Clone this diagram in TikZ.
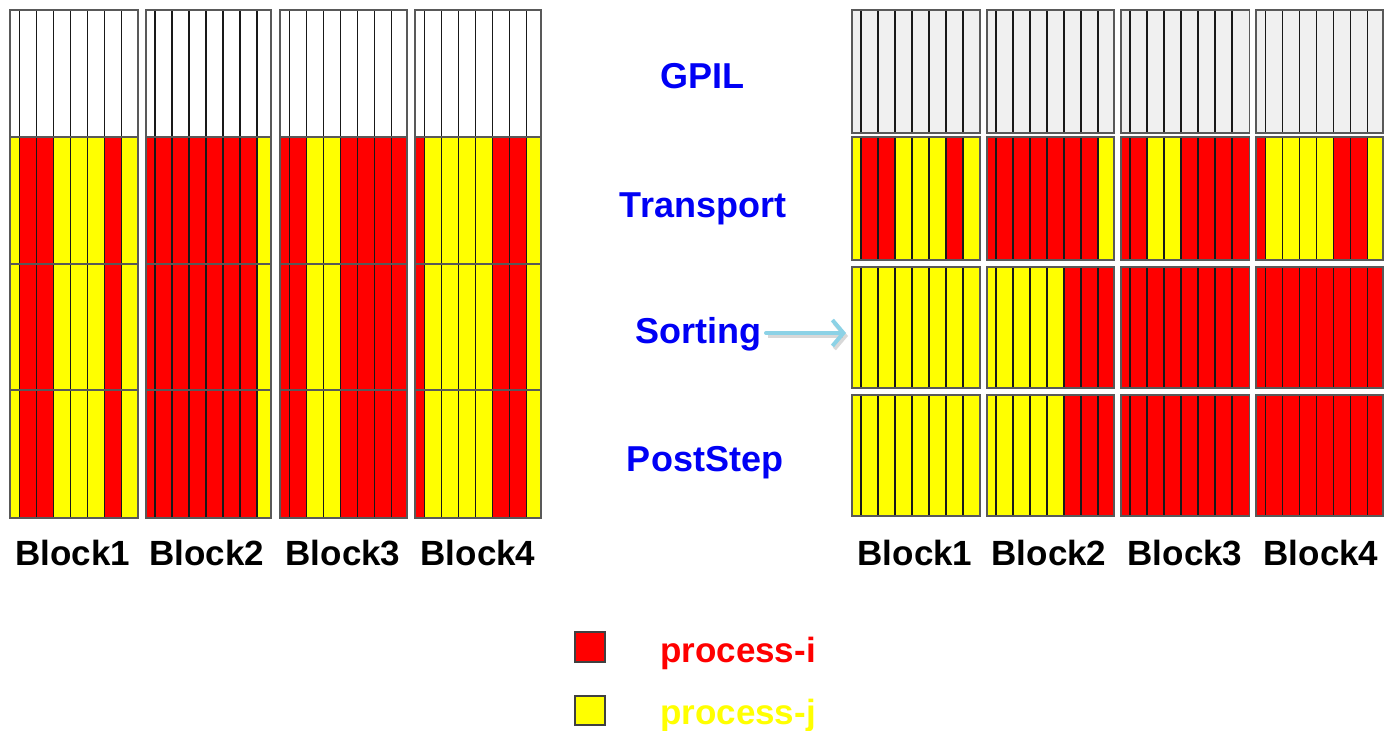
\documentclass[tikz,border=0pt]{standalone}
\usepackage{fontspec}
\setmainfont{Liberation Sans}
\usetikzlibrary{arrows.meta}
\definecolor{cR}{RGB}{255,0,0}
\definecolor{cY}{RGB}{255,255,0}
\definecolor{cW}{RGB}{255,255,255}
\definecolor{cG}{RGB}{240,240,240}
\definecolor{stripeline}{RGB}{25,25,25}
\definecolor{lblblue}{RGB}{0,0,245}
\definecolor{arrowblue}{RGB}{140,210,230}
\newcommand\stripeblock[5]{%
  \edef\mystripelist{#5}%
  \foreach \c [count=\i from 0] in \mystripelist {%
    \pgfmathsetmacro\xa{ifthenelse(\i==0,#1,#1+9.3+17*(\i-1))}%
    \pgfmathsetmacro\xb{ifthenelse(\i==7,#2,#1+9.3+17*\i)}%
    \filldraw[stripecell, fill=\c] (\xa,#3) rectangle (\xb,#4);
  }%
  \draw[blockframe] (#1,#3) rectangle (#2,#4);
}
\def\whites{cW,cW,cW,cW,cW,cW,cW,cW}
\def\grays{cG,cG,cG,cG,cG,cG,cG,cG}
\def\patA{cY,cR,cR,cY,cY,cY,cR,cY}
\def\patB{cR,cR,cR,cR,cR,cR,cR,cY}
\def\patC{cR,cR,cY,cY,cR,cR,cR,cR}
\def\patD{cR,cY,cY,cY,cY,cR,cR,cY}
\def\allY{cY,cY,cY,cY,cY,cY,cY,cY}
\def\halfYR{cY,cY,cY,cY,cY,cR,cR,cR}
\def\allR{cR,cR,cR,cR,cR,cR,cR,cR}
\tikzset{
  stripecell/.style={draw=stripeline, line width=1.5bp},
  blockframe/.style={draw=black!65, line width=1.6bp},
  rowlabel/.style={text=lblblue, font=\fontsize{36bp}{40bp}\selectfont\bfseries, inner sep=1bp, anchor=base},
  blocklabel/.style={text=black, font=\fontsize{35bp}{40bp}\selectfont\bfseries, inner sep=0pt, anchor=base},
  legendtext/.style={font=\fontsize{35bp}{40bp}\selectfont\bfseries, inner sep=0pt, anchor=base west},
  legendbox/.style={draw=black!75, line width=1.2bp},
}
\begin{document}
\begin{tikzpicture}[x=1bp, y=-1bp]
\useasboundingbox (0,0) rectangle (1384,730);
% ---------- left column (continuous rows) ----------
\foreach \xl/\xr/\pat in {10/138/\patA, 145.7/271/\patB, 280/406.7/\patC, 415/541/\patD} {
  \stripeblock{\xl}{\xr}{10}{137}{\whites}
  \stripeblock{\xl}{\xr}{137}{264}{\pat}
  \stripeblock{\xl}{\xr}{264}{390}{\pat}
  \stripeblock{\xl}{\xr}{390}{518}{\pat}
}
% ---------- right column (separated rows) ----------
\foreach \xl/\xr/\pat/\srt in {851.7/980/\patA/\allY, 986.7/1114/\patB/\halfYR,
                              1120.7/1249.3/\patC/\allR, 1256/1383/\patD/\allR} {
  \stripeblock{\xl}{\xr}{10}{133}{\grays}
  \stripeblock{\xl}{\xr}{137}{260}{\pat}
  \stripeblock{\xl}{\xr}{267}{388}{\srt}
  \stripeblock{\xl}{\xr}{395}{516}{\srt}
}
% ---------- block labels ----------
\node[blocklabel] (lb1) at (73,565) {Block1};
\node[blocklabel] (lb2) at (207,565) {Block2};
\node[blocklabel] (lb3) at (343,565) {Block3};
\node[blocklabel] (lb4) at (478,565) {Block4};
\node[blocklabel] (rb1) at (915,565) {Block1};
\node[blocklabel] (rb2) at (1049,565) {Block2};
\node[blocklabel] (rb3) at (1185,565) {Block3};
\node[blocklabel] (rb4) at (1321,565) {Block4};
% ---------- row labels ----------
\node[rowlabel] (gpil) at (702,89) {GPIL};
\node[rowlabel] (transport) at (703,217) {Transport};
\node[rowlabel] (sorting) at (698,343) {Sorting};
\node[rowlabel] (poststep) at (705,471) {PostStep};
% ---------- arrow ----------
\coordinate (sorttarget) at (846,333);
\coordinate (sortstart) at (766,333);
\draw[line width=4bp, black!30, opacity=0.5, -{Straight Barb[length=11bp,width=26bp]}]
  ([shift={(2,3)}]sortstart) -- ([shift={(2,3)}]sorttarget);
\draw[line width=4bp, arrowblue, line cap=round, -{Straight Barb[length=11bp,width=26bp]}]
  (sortstart) -- (sorttarget);
% ---------- legend ----------
\draw[legendbox, fill=cR] (575,632) rectangle (605,662);
\node[legendtext, text=cR] (pi) at (660,662) {process-i};
\draw[legendbox, fill=cY] (575,696) rectangle (605,725);
\node[legendtext, text=cY] (pj) at (660,724) {process-j};
\end{tikzpicture}
\end{document}
